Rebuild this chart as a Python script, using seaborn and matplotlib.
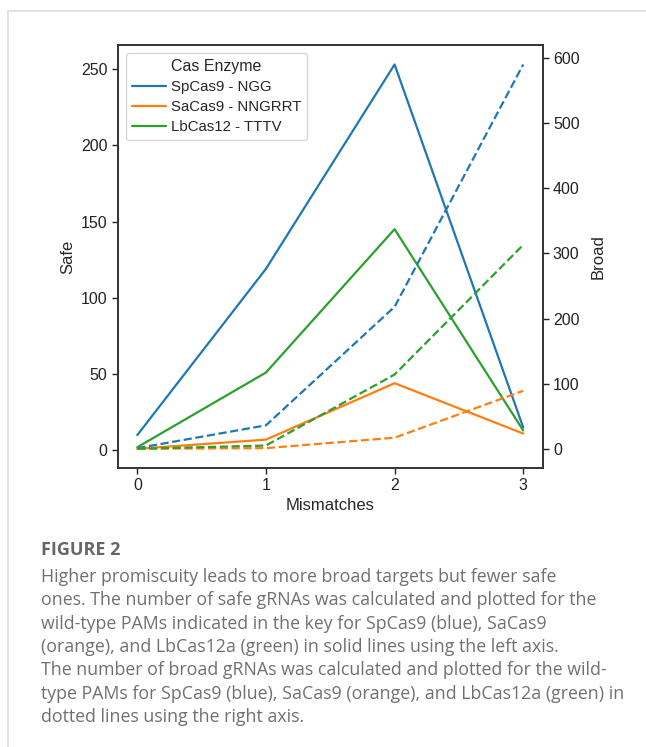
import matplotlib.pyplot as plt
import matplotlib.lines as mlines
import pandas as pd
import seaborn as sns

mismatches = [0, 1, 2, 3]
enzymes = ['SpCas9 - NGG', 'SaCas9 - NNGRRT', 'LbCas12 - TTTV']

# solid lines, left axis
safe_sp = [10, 119, 253, 15]
safe_sa = [1, 7, 44, 11]
safe_lb = [2, 51, 145, 13]

# dashed lines, right axis
broad_sp = [1, 36, 218, 590]
broad_sa = [0, 1, 17, 89]
broad_lb = [0, 5, 114, 313]

caption = ("Higher promiscuity leads to more broad targets but fewer safe\n"
           "ones. The number of safe gRNAs was calculated and plotted for the\n"
           "wild-type PAMs indicated in the key for SpCas9 (blue), SaCas9\n"
           "(orange), and LbCas12a (green) in solid lines using the left axis.\n"
           "The number of broad gRNAs was calculated and plotted for the wild-\n"
           "type PAMs for SpCas9 (blue), SaCas9 (orange), and LbCas12a (green) in\n"
           "dotted lines using the right axis.")


def long_table(series):
    rows = []
    for name, values in zip(enzymes, series):
        for m, v in zip(mismatches, values):
            rows.append({'Mismatches': m, 'Cas Enzyme': name, 'value': v})
    return pd.DataFrame(rows)


safe = long_table([safe_sp, safe_sa, safe_lb])
broad = long_table([broad_sp, broad_sa, broad_lb])

sns.set_style('ticks')
plt.rcParams['font.family'] = ['Liberation Sans', 'DejaVu Sans']
palette = sns.color_palette('tab10', 3)

fig = plt.figure(figsize=(6.46, 7.47), dpi=100)
ax = fig.add_axes([0.1827, 0.3735, 0.6571, 0.5659])
ax2 = ax.twinx()

sns.lineplot(data=safe, x='Mismatches', y='value', hue='Cas Enzyme',
             palette=palette, ax=ax, linewidth=1.6)
sns.lineplot(data=broad, x='Mismatches', y='value', hue='Cas Enzyme',
             palette=palette, ax=ax2, linewidth=1.6, linestyle='--',
             legend=False)

ax.set_xticks(mismatches)
ax.set_yticks([0, 50, 100, 150, 200, 250])
ax2.set_yticks([0, 100, 200, 300, 400, 500, 600])

for a in (ax, ax2):
    a.tick_params(labelsize=11.5, length=4, width=1, colors='#222222')
    for s in a.spines.values():
        s.set_visible(True)
        s.set_color('#333333')
        s.set_linewidth(1.2)

ax.set_xlabel('Mismatches', fontsize=12, labelpad=3)
ax.set_ylabel('Safe', fontsize=12, labelpad=4)
ax2.set_ylabel('Broad', fontsize=12, labelpad=8)

leg = ax.legend(title='Cas Enzyme', loc='upper left', fontsize=10.8,
                title_fontsize=11.5, handlelength=2.3, handletextpad=0.3,
                labelspacing=0.4, frameon=True)
leg.get_frame().set_edgecolor('#cccccc')

# page border lines
fig.add_artist(mlines.Line2D([8 / 646, 1], [1 - 11 / 747, 1 - 11 / 747],
                             color='#dddddd', linewidth=1.2))
fig.add_artist(mlines.Line2D([8 / 646, 8 / 646], [0, 1 - 11 / 747],
                             color='#dddddd', linewidth=1.2))

fig.text(41 / 646, 1 - 550 / 747, 'FIGURE 2', fontsize=13, color='#666666',
         fontweight='bold', family=['Open Sans', 'DejaVu Sans'], va='center')
fig.text(41 / 646, 1 - 568 / 747, caption, fontsize=12.8, color='#707070',
         family=['Open Sans', 'DejaVu Sans'], va='top', linespacing=1.38)

fig.savefig('out.png', dpi=100)
